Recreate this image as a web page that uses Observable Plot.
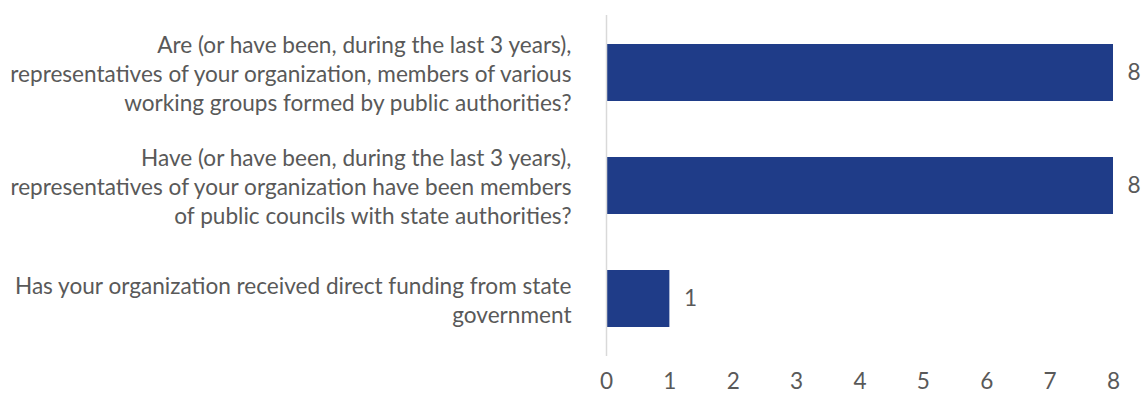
<!DOCTYPE html>
<html><head><meta charset="utf-8">
<script src="https://cdn.jsdelivr.net/npm/d3@7"></script>
<script src="https://cdn.jsdelivr.net/npm/@observablehq/plot@0.6"></script>
<style>body{margin:0;background:#fff}</style>
</head><body><div id="chart"></div>
<script>
const categories = [
  "Are (or have been, during the last 3 years),\nrepresentatives of your organization, members of various\nworking groups formed by public authorities?",
  "Have (or have been, during the last 3 years),\nrepresentatives of your organization have been members\nof public councils with state authorities?",
  "Has your organization received direct funding from state\ngovernment"
];
const values = [8, 8, 1];
const xTicks = [0, 1, 2, 3, 4, 5, 6, 7, 8];

const data = categories.map((c, i) => ({category: c, value: values[i]}));
const font = "Lato, 'Open Sans', sans-serif";
const fs = 22.6;
const chart = Plot.plot({
  width: 1141, height: 395,
  marginTop: 15, marginBottom: 39, marginLeft: 606, marginRight: 28,
  style: {fontFamily: font, fontSize: fs + "px", color: "#595959", background: "#fff"},
  x: {domain: [0, 8], ticks: xTicks, label: null},
  y: {domain: categories, paddingInner: 0.5, paddingOuter: 0.25, label: null},
  marks: [
    Plot.barX(data, {x: "value", y: "category", fill: "#1F3C88"}),
    Plot.ruleX([0], {stroke: "#D9D9D9", strokeWidth: 1.5}),
    Plot.text(data, {x: "value", y: "category", text: d => String(d.value), textAnchor: "start", dx: 14, fill: "#595959", fontSize: fs}),
    Plot.text(data, {y: "category", frameAnchor: "left", text: "category", textAnchor: "end", dx: -35, lineHeight: 1.27, fill: "#595959", fontSize: fs}),
    Plot.axisX({ticks: xTicks, tickSize: 0, tickPadding: 16, label: null, fontSize: fs, fill: "#595959"}),
    Plot.axisY({ticks: [], label: null})
  ]
});
document.getElementById("chart").append(chart);
</script></body></html>
